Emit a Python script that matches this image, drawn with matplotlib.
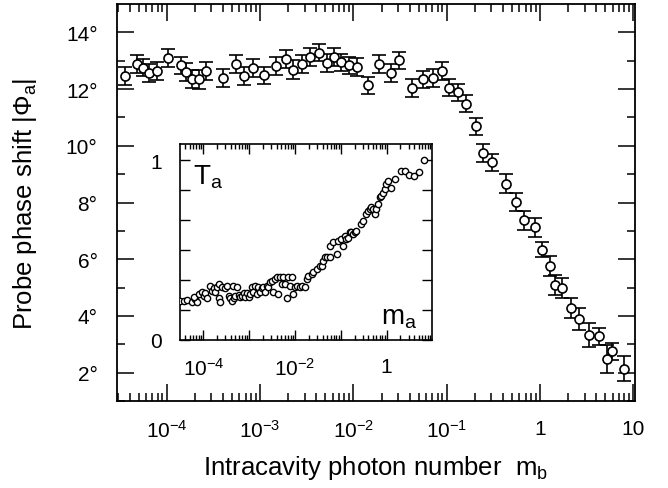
import numpy as np
import matplotlib
matplotlib.use("Agg")
import matplotlib.pyplot as plt
from matplotlib.ticker import FixedLocator, NullFormatter, LogLocator, FuncFormatter

plt.rcParams['font.family'] = ['Liberation Sans', 'DejaVu Sans']
plt.rcParams['mathtext.default'] = 'regular'

# ---- main data: log10(m_b), phase shift (deg), error (deg)
main_logm = [-4.447, -4.322, -4.257, -4.186, -4.108, -3.983, -3.851, -3.794, -3.733, -3.655,
             -3.580, -3.394, -3.262, -3.169, -3.073, -2.959, -2.830, -2.723, -2.645, -2.555,
             -2.466, -2.370, -2.288, -2.206, -2.131, -2.052, -1.960, -1.848, -1.731, -1.599,
             -1.510, -1.371, -1.253, -1.146, -1.050, -0.978, -0.878, -0.796, -0.689,
             -0.611, -0.514, -0.368, -0.261, -0.172, -0.057, 0.025, 0.103,
             0.164, 0.239, 0.328, 0.417, 0.524, 0.631, 0.717, 0.775, 0.899]
main_phi = [12.46, 12.87, 12.75, 12.58, 12.63, 13.11, 12.84, 12.60, 12.37, 12.34,
            12.63, 12.40, 12.87, 12.46, 12.75, 12.48, 12.81, 13.07, 12.69, 12.87,
            13.14, 13.28, 12.91, 13.14, 12.95, 12.84, 12.79, 12.14, 12.89, 12.58,
            13.01, 12.05, 12.34, 12.40, 12.63, 12.05, 11.89, 11.49, 10.69,
            9.75, 9.42, 8.67, 8.01, 7.37, 7.13, 6.34, 5.75,
            5.10, 4.99, 4.28, 3.89, 3.34, 3.28, 2.48, 2.75, 2.14]
main_err = [0.32, 0.32, 0.30, 0.32, 0.32, 0.32, 0.30, 0.32, 0.32, 0.32,
            0.32, 0.32, 0.32, 0.32, 0.32, 0.30, 0.32, 0.32, 0.32, 0.32,
            0.32, 0.30, 0.32, 0.32, 0.30, 0.30, 0.32, 0.30, 0.32, 0.32,
            0.30, 0.32, 0.30, 0.32, 0.32, 0.30, 0.30, 0.30, 0.30,
            0.31, 0.30, 0.35, 0.32, 0.33, 0.34, 0.27, 0.35,
            0.35, 0.35, 0.35, 0.38, 0.42, 0.30, 0.49, 0.30, 0.45]

# ---- inset data: log10(m_a), transmission T_a
inset_logm = [-4.500, -4.428, -4.355, -4.246, -4.174, -4.138, -4.210, -4.101, -4.029, -3.993,
              -3.957, -3.920, -3.848, -3.812, -3.775, -3.739, -3.703, -3.667, -3.630, -3.667,
              -3.594, -3.522, -3.486, -3.449, -3.413, -3.377, -3.341, -3.304, -3.355, -3.268,
              -3.232, -3.196, -3.159, -3.123, -3.087, -3.051, -3.014, -2.978, -2.942, -2.906,
              -2.870, -2.833, -2.797, -2.761, -2.725, -2.688, -2.652, -2.616, -2.580, -2.543,
              -2.507, -2.471, -2.435, -2.399, -2.362, -2.326, -2.290, -2.254, -2.217, -2.181,
              -2.145, -2.109, -2.072, -2.036, -2.000, -1.964, -1.891, -1.855, -1.783, -1.746,
              -1.710, -1.638, -1.601, -1.529, -1.457, -1.420, -1.384, -1.348, -1.312, -1.239,
              -1.239, -1.167, -1.094, -1.058, -0.986, -0.949, -0.913, -0.877, -0.841, -0.804,
              -0.768, -0.732, -0.696, -0.659, -0.551, -0.514, -0.442, -0.406, -0.370, -0.333,
              -0.297, -0.261, -0.225, -0.188, -0.152, -0.116, -0.080, -0.043, -0.007, 0.029,
              0.101, 0.174, 0.304, 0.406, 0.486, 0.594, 0.717, 0.826]
inset_T = [0.219, 0.219, 0.222, 0.209, 0.228, 0.209, 0.237, 0.256, 0.269, 0.246,
           0.261, 0.231, 0.302, 0.274, 0.287, 0.265, 0.293, 0.231, 0.209, 0.311,
           0.293, 0.287, 0.298, 0.246, 0.235, 0.219, 0.231, 0.246, 0.302, 0.293,
           0.252, 0.237, 0.246, 0.261, 0.237, 0.261, 0.237, 0.256, 0.293, 0.265,
           0.302, 0.256, 0.293, 0.265, 0.287, 0.293, 0.265, 0.302, 0.293, 0.320,
           0.330, 0.265, 0.339, 0.348, 0.256, 0.348, 0.311, 0.348, 0.311, 0.231,
           0.348, 0.302, 0.348, 0.256, 0.293, 0.302, 0.293, 0.302, 0.293, 0.339,
           0.357, 0.367, 0.376, 0.394, 0.413, 0.413, 0.441, 0.459, 0.459, 0.459,
           0.524, 0.543, 0.478, 0.552, 0.561, 0.524, 0.580, 0.561, 0.570, 0.598,
           0.598, 0.589, 0.598, 0.607, 0.644, 0.663, 0.700, 0.719, 0.728, 0.737,
           0.728, 0.700, 0.728, 0.756, 0.793, 0.802, 0.820, 0.839, 0.867, 0.885,
           0.843, 0.898, 0.941, 0.941, 0.917, 0.913, 0.937, 1.002]

main_xticklabels = ['$10^{-4}$', '$10^{-3}$', '$10^{-2}$', '$10^{-1}$', '1', '10']
main_yticks = [2, 4, 6, 8, 10, 12, 14]
inset_xticklabels = ['$10^{-4}$', '$10^{-2}$', '1']

W, H = 668, 489
fig = plt.figure(figsize=(W / 100, H / 100), dpi=100)
ax = fig.add_axes([117 / W, 1 - 402 / H, (635 - 117) / W, (402 - 5) / H])

mx = 10 ** np.array(main_logm)
ax.errorbar(mx, main_phi, yerr=main_err, fmt='o', ms=6.5, mfc='white', mec='black',
            mew=1.2, ecolor='black', elinewidth=1.2, capsize=5, capthick=1.2, zorder=3)
ax.set_xscale('log')
ax.set_xlim(2.93e-5, 10.4)
ax.set_ylim(1, 15)

ax.xaxis.set_major_locator(FixedLocator([1e-4, 1e-3, 1e-2, 1e-1, 1, 10]))
ax.set_xticklabels(main_xticklabels)
ax.xaxis.set_minor_locator(LogLocator(base=10, subs=np.arange(2, 10), numticks=20))
ax.xaxis.set_minor_formatter(NullFormatter())
ax.yaxis.set_major_locator(FixedLocator(main_yticks))
ax.yaxis.set_minor_locator(FixedLocator([1, 3, 5, 7, 9, 11, 13]))
ax.set_yticklabels([f'{v}°' for v in main_yticks])

ax.tick_params(which='both', direction='in', top=True, right=True, width=1.1, labelsize=15)
ax.tick_params(which='major', length=12, pad=13)
ax.tick_params(which='minor', length=6)
ax.tick_params(axis='y', which='major', pad=14)
for s in ax.spines.values():
    s.set_linewidth(1.3)

ax.set_xlabel('Intracavity photon number  m$_b$', fontsize=18.5, labelpad=9)
ax.set_ylabel('Probe phase shift |Φ$_a$|', fontsize=18.5, labelpad=19)

# ---- inset
ins = fig.add_axes([180 / W, 1 - 341 / H, (432 - 180) / W, (341 - 145) / H])
ix = 10 ** np.array(inset_logm)
ins.plot(ix, inset_T, 'o', ms=4.5, mfc='white', mec='black', mew=1.0, zorder=3)
ins.set_xscale('log')
ins.set_xlim(10 ** -4.51, 10 ** 0.99)
ins.set_ylim(0, 1.09)
ins.xaxis.set_major_locator(FixedLocator([1e-5, 1e-4, 1e-3, 1e-2, 1e-1, 1]))
label_map = {-4: inset_xticklabels[0], -2: inset_xticklabels[1], 0: inset_xticklabels[2]}
ins.xaxis.set_major_formatter(FuncFormatter(
    lambda v, p: label_map.get(int(round(np.log10(v))), '')))
ins.xaxis.set_minor_locator(LogLocator(base=10, subs=np.arange(2, 10), numticks=20))
ins.xaxis.set_minor_formatter(NullFormatter())
ins.yaxis.set_major_locator(FixedLocator([0, 1 / 6, 2 / 6, 3 / 6, 4 / 6, 5 / 6, 1]))
ins.yaxis.set_major_formatter(FuncFormatter(lambda v, p: '0' if abs(v) < 1e-6 else ('1' if abs(v - 1) < 1e-6 else '')))
ins.tick_params(which='both', direction='in', top=True, right=True, width=1.0, labelsize=15)
ins.tick_params(which='major', length=7, pad=12)
ins.tick_params(which='minor', length=3.5)
ins.tick_params(axis='y', pad=13)
for s in ins.spines.values():
    s.set_linewidth(1.2)
ins.text(0.052, 0.796, 'T$_a$', transform=ins.transAxes, fontsize=20, ha='left', va='baseline')
ins.text(0.798, 0.082, 'm$_a$', transform=ins.transAxes, fontsize=20, ha='left', va='baseline')

fig.savefig('out.png', dpi=100)
